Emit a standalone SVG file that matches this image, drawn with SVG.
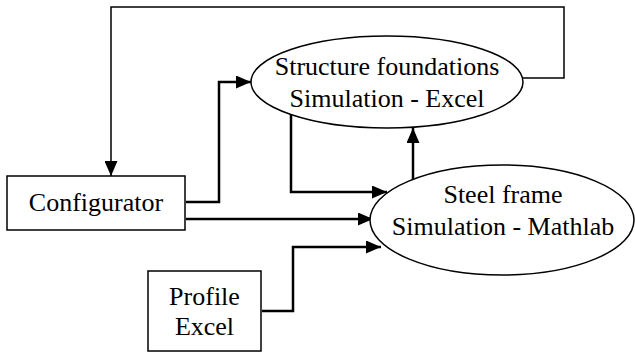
<svg xmlns="http://www.w3.org/2000/svg" width="635" height="354" viewBox="0 0 635 354">
<style>
.box{fill:#fff;stroke:#000;stroke-width:1.5}
.t{font-family:'Times New Roman','Liberation Serif',Times,serif;font-size:26px;fill:#000;text-anchor:middle}
.c{fill:none;stroke:#000;stroke-width:2.5}
.thin{fill:none;stroke:#000;stroke-width:1.5}
</style>
<defs>
<marker id="ah" markerUnits="userSpaceOnUse" markerWidth="15" markerHeight="13" refX="15" refY="6.5" orient="auto">
<path d="M0,0 L15,6.5 L0,13 Z" fill="#000"/>
</marker>
</defs>
<rect width="635" height="354" fill="#fff"/>
<g id="connectors">
<path class="thin" d="M523,78 H564 V7 H111 V176" marker-end="url(#ah)"/>
<path class="c" d="M186,202 H219 V82 H251" marker-end="url(#ah)"/>
<path class="c" d="M291,114 V192 H387" marker-end="url(#ah)"/>
<path class="c" d="M186,219 H373" marker-end="url(#ah)"/>
<path class="c" d="M262,311 H293 V247 H381" marker-end="url(#ah)"/>
<path class="c" d="M413,180 V128" marker-end="url(#ah)"/>
</g>
<g id="structure">
<ellipse class="box" cx="387" cy="82" rx="136" ry="46"/>
<text class="t" x="387" y="75" font-family="Liberation Serif">Structure foundations</text>
<text class="t" x="387" y="107" font-family="Liberation Serif">Simulation - Excel</text>
</g>
<g id="steel">
<ellipse class="box" cx="502" cy="220" rx="132" ry="55"/>
<text class="t" x="503" y="203">Steel frame</text>
<text class="t" x="503" y="235">Simulation - Mathlab</text>
</g>
<g id="configurator">
<rect class="box" x="7" y="176" width="178" height="54"/>
<text class="t" x="96" y="211">Configurator</text>
</g>
<g id="profile">
<rect class="box" x="148" y="271" width="113" height="80"/>
<text class="t" x="204.5" y="305">Profile</text>
<text class="t" x="204.5" y="335">Excel</text>
</g>
</svg>
